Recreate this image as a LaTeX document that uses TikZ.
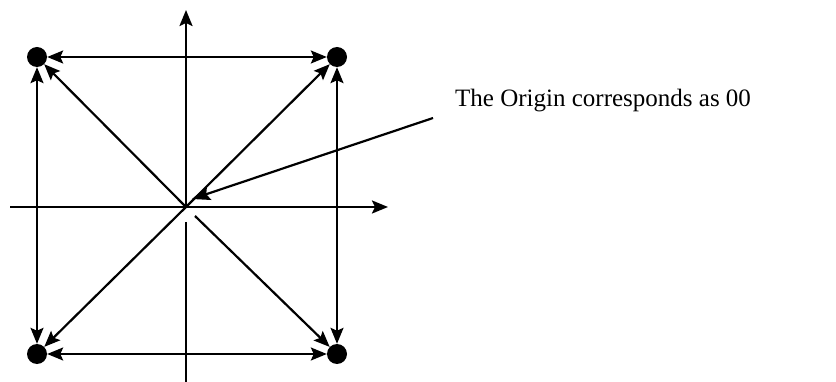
\documentclass[tikz,border=0pt]{standalone}
\usepackage{fontspec}
\setmainfont{Liberation Serif}
\usetikzlibrary{arrows.meta}
\begin{document}
\begin{tikzpicture}[x=1pt,y=-1pt,
  ln/.style={line width=2.2pt,black},
  tip/.style={-{Stealth[length=16pt,width=13pt,inset=3pt]}},
  dtip/.style={{Stealth[length=16pt,width=13pt,inset=3pt]}-{Stealth[length=16pt,width=13pt,inset=3pt]}},
  dot/.style={circle,fill=black,inner sep=0pt,minimum size=20pt}]
\useasboundingbox (0,0) rectangle (836,382);
\fill[white] (0,0) rectangle (836,382);
% origin and axis ends
\coordinate (O) at (186,207);
\coordinate (xl) at (10,207);
\coordinate (xr) at (388,207);
\coordinate (yt) at (186,10);
\coordinate (yb) at (186,382);
\coordinate (yg) at (186,222);
\coordinate (dg) at (195,216);
% dots
\node[dot] (tl) at (37,57) {};
\node[dot] (tr) at (337,57) {};
\node[dot] (bl) at (37,354) {};
\node[dot] (br) at (337,354) {};
% axes
\draw[ln,tip] (xl) -- (xr);
\draw[ln,tip] (O) -- (yt);
\draw[ln] (yg) -- (yb);
% square sides
\draw[ln,dtip] (tl) -- (tr);
\draw[ln,dtip] (bl) -- (br);
\draw[ln,dtip] (tl) -- (bl);
\draw[ln,dtip] (tr) -- (br);
% diagonals
\draw[ln,tip] (O) -- (tl);
\draw[ln,tip] (O) -- (tr);
\draw[ln,tip] (O) -- (bl);
\draw[ln,tip] (dg) -- (br);
% label and pointer
\node[anchor=base west,inner sep=0pt,font=\fontsize{25}{28}\selectfont] (lab) at (455,107) {The Origin corresponds as 00};
\coordinate (pe) at (433,118);
\draw[ln,-{Stealth[length=18pt,width=14pt,inset=3pt]}] (pe) -- (192,199);
\end{tikzpicture}
\end{document}
